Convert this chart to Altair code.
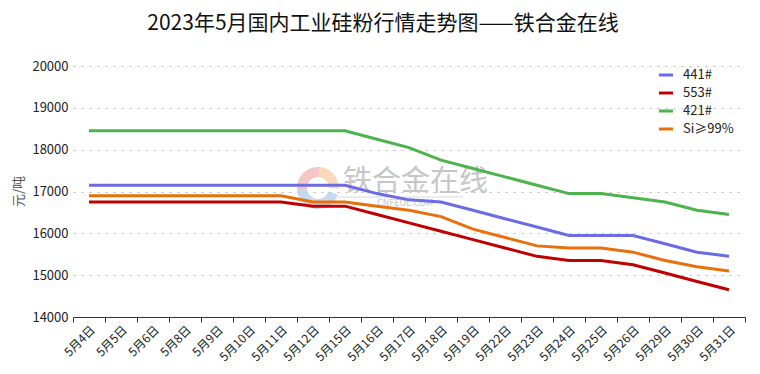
import altair as alt
import pandas as pd

dates = ["5月4日", "5月5日", "5月6日", "5月8日", "5月9日", "5月10日", "5月11日",
         "5月12日", "5月15日", "5月16日", "5月17日", "5月18日", "5月19日", "5月22日",
         "5月23日", "5月24日", "5月25日", "5月26日", "5月29日", "5月30日", "5月31日"]

series_names = ["441#", "553#", "421#", "Si≥99%"]
s441 = [17150, 17150, 17150, 17150, 17150, 17150, 17150, 17150, 17150, 16950, 16800,
        16750, 16550, 16350, 16150, 15950, 15950, 15950, 15750, 15550, 15450]
s553 = [16750, 16750, 16750, 16750, 16750, 16750, 16750, 16650, 16650, 16450, 16250,
        16050, 15850, 15650, 15450, 15350, 15350, 15250, 15050, 14850, 14650]
s421 = [18450, 18450, 18450, 18450, 18450, 18450, 18450, 18450, 18450, 18250, 18050,
        17750, 17550, 17350, 17150, 16950, 16950, 16850, 16750, 16550, 16450]
s99 = [16900, 16900, 16900, 16900, 16900, 16900, 16900, 16750, 16750, 16650, 16550,
       16400, 16100, 15900, 15700, 15650, 15650, 15550, 15350, 15200, 15100]
colors = ["#6B6BE3", "#C00000", "#4DB34D", "#E8700A"]

rows = []
for name, vals in zip(series_names, [s441, s553, s421, s99]):
    for d, v in zip(dates, vals):
        rows.append({"date": d, "series": name, "price": v})
df = pd.DataFrame(rows)

FONT = "Noto Sans CJK SC"

x_enc = alt.X("date:N", sort=dates, title=None,
              scale=alt.Scale(paddingInner=0, paddingOuter=0),
              axis=alt.Axis(labelAngle=-45, labelFontSize=12, labelColor="#222",
                            labelFont=FONT, tickBand="extent", tickSize=5,
                            tickColor="#333", domainColor="#333", domainWidth=1,
                            grid=False, labelPadding=2))
y_enc = alt.Y("price:Q", title="元/吨",
              scale=alt.Scale(domain=[14000, 20000], nice=False, zero=False),
              axis=alt.Axis(values=[14000, 15000, 16000, 17000, 18000, 19000, 20000],
                            format="d", labelFontSize=13, labelColor="#222",
                            labelFont=FONT, domain=False, ticks=False, labelPadding=5,
                            grid=True, gridColor="#b8b8b8", gridDash=[2, 6], gridWidth=1,
                            titleFont=FONT, titleFontSize=13, titleFontWeight="normal",
                            titleColor="#555", titleX=-48, titleY=125))

lines = alt.Chart(df).mark_line(strokeWidth=3).encode(
    x=x_enc,
    y=y_enc,
    color=alt.Color("series:N", sort=series_names,
                    scale=alt.Scale(domain=series_names, range=colors),
                    legend=alt.Legend(title=None, orient="none", legendX=584, legendY=0,
                                      symbolType="stroke", symbolStrokeWidth=3,
                                      symbolSize=200, labelFontSize=13, labelFont=FONT,
                                      labelColor="#222", rowPadding=2, labelOffset=8)),
)

wm = pd.DataFrame({"t": ["铁合金在线"]})
wm_text = alt.Chart(wm).mark_text(fontSize=29, font=FONT, color="#bdbdbd", opacity=0.85,
                                  align="left", baseline="middle").encode(
    x=alt.value(270), y=alt.value(116), text="t:N")
wm2 = pd.DataFrame({"t": ["CNFEOL.COM"]})
wm_text2 = alt.Chart(wm2).mark_text(fontSize=9, font=FONT, color="#c4c4c4",
                                    align="left", baseline="middle").encode(
    x=alt.value(304), y=alt.value(137), text="t:N")
wm_rule = alt.Chart(wm2).mark_rule(color="#d8d8d8", strokeWidth=1).encode(
    x=alt.value(265), x2=alt.value(390), y=alt.value(131))

arc_t1 = [-1.7, 0.1, 1.9]
arc_t2 = [0.1, 1.6, 4.6]
arc_cols = ["#f2b8b8", "#f7cfa8", "#b8cff0"]
logo_layers = []
for t1, t2, c in zip(arc_t1, arc_t2, arc_cols):
    d = pd.DataFrame({"t1": [t1], "t2": [t2]})
    logo_layers.append(alt.Chart(d).mark_arc(opacity=0.8, color=c).encode(
        x=alt.value(245), y=alt.value(122),
        theta=alt.Theta("t1:Q", scale=None), theta2="t2:Q",
        radius=alt.value(21), radius2=alt.value(11)))

chart = alt.layer(*logo_layers, wm_rule, wm_text, wm_text2, lines).properties(
    width=672, height=251,
    background="white",
    title=alt.TitleParams("2023年5月国内工业硅粉行情走势图——铁合金在线", font=FONT,
                          fontSize=21, fontWeight="normal", color="#111",
                          anchor="middle", dx=-26, offset=26),
    autosize=alt.AutoSizeParams(type="none"),
    padding={"left": 65, "top": 58, "right": 7, "bottom": 50},
).configure_view(stroke=None)

chart.save("out.html", embed_options={"renderer": "svg", "actions": False})
